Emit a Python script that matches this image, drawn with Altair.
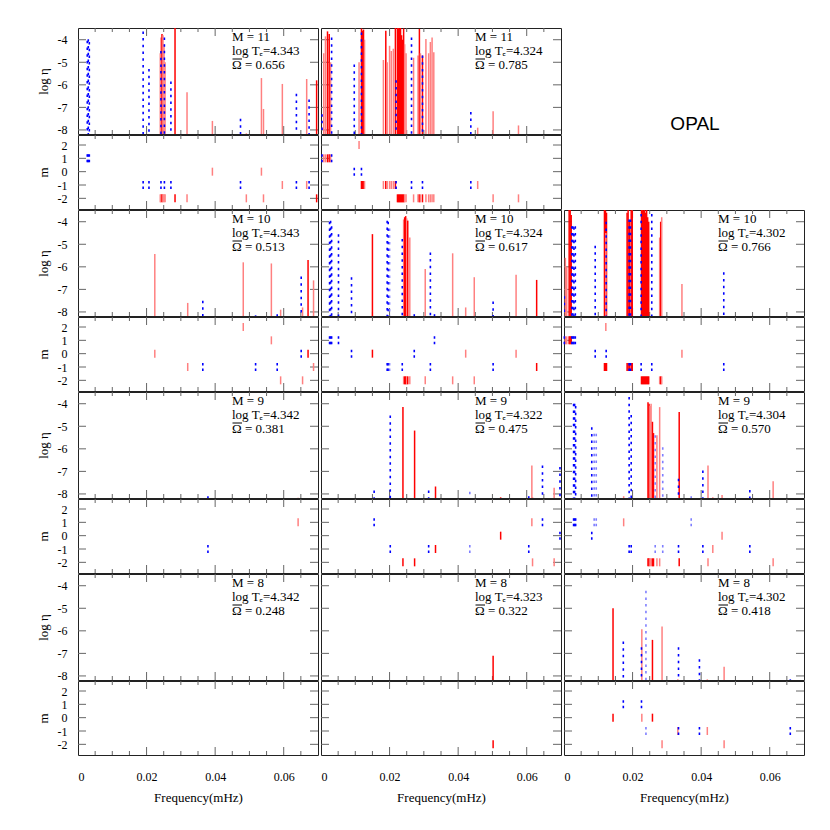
import altair as alt
import pandas as pd

# ---------------- data (frequency mHz, log eta, m, kind) ----------------
# kind: r = red, p = light red, b = blue, lb = light blue

# Row M=11, log Te=4.343
A_F = [0.0027, 0.0030, 0.0033, 0.0190, 0.0207, 0.0242, 0.0252, 0.0271, 0.0474, 0.0637, 0.0674,
       0.0240, 0.0242, 0.0245, 0.0248, 0.0251, 0.0254, 0.0283, 0.0318, 0.0392, 0.0491, 0.0535,
       0.0541, 0.0596, 0.0667, 0.0696]
A_E = [-4.05, -3.98, -4.1, -3.63, -5.3, -4.5, -3.9, -5.85, -7.5, -6.4, -6.65,
       -4.6, -3.9, -3.75, -3.8, -4.2, -5.0, -3.4, -6.33, -7.6, -8.15, -5.7,
       -7.07, -5.96, -5.74, -5.8]
A_M = [1, 1, 1, -1, -1, -1, -1, -1, -1, -1, -1,
       -2, -2, -2, -2, -2, -2, -2, -2, 0, -2, 0,
       -2, -1, -1, -2]
A_K = ["b"] * 11 + ["p", "p", "r", "p", "p", "p", "r", "p", "p", "p", "p", "p", "p", "p", "r"]

# Row M=11, log Te=4.324
B_F = [0.0008, 0.0013, 0.0019, 0.0024, 0.0028, 0.0111, 0.0118, 0.0121, 0.0124, 0.0127,
       0.0182, 0.0189, 0.0193, 0.0200, 0.0205, 0.0211, 0.0217, 0.0223, 0.0226, 0.0229,
       0.0232, 0.0235, 0.0238, 0.0241, 0.0244, 0.0248, 0.0270, 0.0283, 0.0287, 0.0290,
       0.0296, 0.0306, 0.0314, 0.0319, 0.0324, 0.0329, 0.0457, 0.0502, 0.0576,
       0.0003, 0.0031, 0.0097, 0.0118, 0.0219, 0.0264, 0.0296, 0.0437]
B_E = [-4.6, -3.85, -3.63, -3.75, -5.0, -5.0, -3.5, -3.6, -3.55, -4.0,
       -4.9, -3.6, -5.0, -4.27, -4.5, -4.4, -3.45, -3.4, -3.4, -3.5,
       -3.45, -3.8, -4.0, -3.5, -4.2, -4.6, -4.8, -4.7, -3.52, -4.6,
       -4.7, -3.97, -4.6, -4.1, -3.9, -4.56, -7.9, -7.17, -7.8,
       -7.3, -3.9, -5.1, -3.68, -5.8, -3.9, -4.7, -7.2]
B_M = [1, 1, 1, 1, 1, 2, -1, -1, -1, -1,
       -1, -1, -1, -1, -1, -1, -1, -2, -2, -2,
       -2, -2, -2, -2, -2, -2, -2, -2, -2, -2,
       -2, -2, -2, -2, -2, -2, -1, -2, -2,
       1, 1, 0, 0, -1, -1, -1, -1]
B_K = ["p", "p", "r", "r", "p", "p", "r", "r", "r", "p",
       "p", "r", "p", "p", "p", "p", "r", "r", "r", "r",
       "r", "r", "r", "r", "p", "p", "p", "p", "r", "p",
       "r", "p", "p", "p", "p", "p", "p", "p", "p"] + ["b"] * 8

# Row M=10, log Te=4.343
C_F = [0.0224, 0.0320, 0.0364, 0.0482, 0.0518, 0.0564, 0.0581, 0.0591, 0.0651, 0.0655, 0.0671, 0.0687]
C_E = [-5.43, -7.6, -7.5, -5.8, -8.15, -5.85, -8.1, -7.9, -6.43, -7.8, -5.7, -6.6]
C_M = [0, -1, -1, 2, -1, 1, -1, -2, 0, -2, 0, -1]
C_K = ["p", "p", "b", "p", "b", "p", "b", "p", "b", "p", "r", "p"]

# Row M=10, log Te=4.324
D_F = [0.0025, 0.0028, 0.0031, 0.0051, 0.0089, 0.0193, 0.0196, 0.0200, 0.0237, 0.0272,
       0.0319, 0.0331, 0.0502,
       0.0150, 0.0241, 0.0244, 0.0247, 0.0250, 0.0253, 0.0259, 0.0304, 0.0384, 0.0422,
       0.0447, 0.0569, 0.0629]
D_E = [-4.0, -3.96, -4.2, -4.55, -6.46, -3.96, -4.0, -4.3, -4.77, -8.1,
       -5.36, -8.1, -7.54,
       -4.55, -3.9, -3.8, -3.75, -3.85, -3.95, -4.7, -6.1, -5.4, -7.8,
       -6.46, -6.35, -6.58]
D_M = [1, 1, 1, 1, 0, -1, -1, -1, -1, 0,
       -1, 1, -1,
       0, -2, -2, -2, -2, -2, -2, -2, -2, 0,
       -2, 0, -1]
D_K = ["b", "b", "b", "b", "b", "b", "b", "lb", "b", "b", "b", "b", "b",
       "r", "p", "r", "r", "p", "r", "p", "p", "p", "p", "p", "p", "r"]

# Row M=10, log Te=4.302
E_F = [0.0004, 0.0008, 0.0015, 0.0018, 0.0021, 0.0118, 0.0121, 0.0124, 0.0122,
       0.0184, 0.0187, 0.0191, 0.0196, 0.0199, 0.0226, 0.0229, 0.0232, 0.0235,
       0.0238, 0.0241, 0.0244, 0.0247, 0.0279, 0.0282, 0.0285, 0.0344,
       0.0001, 0.0023, 0.0026, 0.0029, 0.0033, 0.0091, 0.0123, 0.0190, 0.0194,
       0.0225, 0.0256, 0.0466]
E_E = [-5.6, -6.0, -3.45, -3.4, -3.7, -3.45, -3.5, -3.6, -4.5,
       -3.6, -3.45, -4.0, -3.4, -3.5, -3.4, -3.45, -3.5, -3.4,
       -3.6, -3.45, -3.8, -4.0, -4.7, -4.0, -3.8, -6.76,
       -7.3, -4.2, -4.2, -4.25, -4.2, -5.06, -4.0, -3.9, -3.9,
       -3.66, -3.66, -6.24]
E_M = [1, 1, 1, 1, 1, -1, -1, -1, 2,
       -1, -1, -1, -1, -1, -2, -2, -2, -2,
       -2, -2, -2, -2, -2, -2, -2, 0,
       1, 1, 1, 1, 1, 0, 0, -1, -1,
       -1, -1, -1]
E_K = ["p", "p", "r", "r", "r", "r", "r", "r", "p",
       "r", "r", "r", "r", "r", "r", "r", "r", "r",
       "r", "r", "r", "r", "p", "r", "p", "p"] + ["b"] * 12

# Row M=9, log Te=4.342
F_F = [0.0379, 0.0642]
F_E = [-8.1, -8.17]
F_M = [-1, 1]
F_K = ["b", "p"]

# Row M=9, log Te=4.322
G_F = [0.0155, 0.0202, 0.0239, 0.0273, 0.0314, 0.0334, 0.0434, 0.0524, 0.0606, 0.0615,
       0.0617, 0.0646, 0.0680, 0.0697]
G_E = [-7.85, -4.52, -4.15, -5.19, -7.85, -7.67, -7.9, -8.15, -8.1, -6.74,
       -8.15, -6.74, -7.73, -6.8]
G_M = [1, -1, -2, -2, -1, -1, -1, 0, -1, 1, -2, 1, -2, 0]
G_K = ["b", "b", "r", "r", "b", "r", "lb", "r", "b", "p", "p", "b", "p", "b"]

# Row M=9, log Te=4.304
H_F = [0.0028, 0.0031, 0.0034, 0.0081, 0.0088, 0.0094, 0.0190, 0.0196, 0.0266, 0.0288,
       0.0334, 0.0371, 0.0405, 0.0542,
       0.0245, 0.0248, 0.0251, 0.0254, 0.0258, 0.0261, 0.0271, 0.0279, 0.0336, 0.0420,
       0.0434, 0.0461, 0.0610, 0.0174]
H_E = [-4.0, -4.0, -4.1, -5.04, -5.33, -5.33, -3.7, -4.5, -5.4, -5.93,
       -7.33, -8.1, -6.96, -7.82,
       -3.93, -4.0, -4.1, -4.0, -4.8, -5.3, -5.4, -4.15, -4.37, -6.74,
       -8.15, -8.05, -7.44, -8.1]
H_M = [1, 1, 1, 0, 1, 1, -1, -1, -1, -1,
       -1, 1, -1, -1,
       -2, -2, -2, -2, -2, -2, -2, -2, -2, -2,
       -1, 0, -2, 1]
H_K = ["b", "b", "b", "b", "lb", "lb", "b", "b", "lb", "lb", "b", "lb", "b", "b",
       "r", "r", "p", "p", "r", "r", "p", "p", "r", "p", "p", "p", "p", "p"]

# Row M=8, log Te=4.342 (no modes)
I_F, I_E, I_M, I_K = [], [], [], []

# Row M=8, log Te=4.323
J_F = [0.0502]
J_E = [-7.1]
J_M = [-2]
J_K = ["r"]

# Row M=8, log Te=4.302
K_F = [0.0143, 0.0173, 0.0227, 0.0226, 0.0239, 0.0258, 0.0286, 0.0334, 0.0332, 0.0395,
       0.0418, 0.0467, 0.0660]
K_E = [-5.0, -6.47, -5.93, -6.73, -4.22, -6.4, -5.81, -6.73, -8.15, -7.26,
       -8.15, -7.59, -8.15]
K_M = [0, 1, 0, 1, -1, 0, -2, -1, -1, -1, -1, -2, -1]
K_K = ["r", "b", "p", "b", "lb", "r", "p", "b", "p", "b", "p", "p", "b"]

M_LABELS = ["11", "11", "10", "10", "10", "9", "9", "9", "8", "8", "8"]
TE_LABELS = ["4.343", "4.324", "4.343", "4.324", "4.302", "4.342", "4.322", "4.304",
             "4.342", "4.323", "4.302"]
OMEGA_LABELS = ["0.656", "0.785", "0.513", "0.617", "0.766", "0.381", "0.475", "0.570",
                "0.248", "0.322", "0.418"]

X_MINOR = [0.005, 0.01, 0.015, 0.025, 0.03, 0.035, 0.045, 0.05, 0.055, 0.065]
X_MAJOR = [0.02, 0.04, 0.06]
X_LABELS = [0, 0.02, 0.04, 0.06]
ETA_TICKS = [-8, -7, -6, -5, -4]
M_TICKS = [-2, -1, 0, 1, 2]

# ---------------- styling ----------------
FONT = "Liberation Serif"
W, HE, HM = 240, 106, 74
TICK = "#666666"
XS = alt.Scale(domain=[0, 0.07], nice=False, zero=False)
YE = alt.Scale(domain=[-8.18, -3.48], nice=False, zero=False)
YM = alt.Scale(domain=[-2.8, 2.75], nice=False, zero=False)
CS = alt.Scale(domain=["r", "p", "b", "lb"], range=["#ff0000", "#ff8080", "#0000ff", "#7f7fff"])


def y_axis(title, vals):
    return alt.Axis(title=title, values=vals, labelExpr="'' + datum.value",
                    labelPadding=11, minExtent=22, maxExtent=22, titlePadding=6)


def x_axis():
    return alt.Axis(title="Frequency(mHz)", values=X_LABELS, format=".2~f",
                    labelPadding=16, titlePadding=9)


def tick_layers(yscale, yvals, H, xaxis, yaxis):
    layers = []
    for vals, L in ((X_MINOR, 4), (X_MAJOR, 8)):
        d = pd.DataFrame({"v": vals})
        for y0, y1 in ((H, H - L), (0, L)):
            layers.append(alt.Chart(d).mark_rule(color=TICK, strokeWidth=1).encode(
                x=alt.X("v:Q", scale=XS, axis=xaxis), y=alt.value(y0), y2=alt.value(y1)))
    d = pd.DataFrame({"v": yvals})
    for x0, x1 in ((0, 8), (W, W - 8)):
        layers.append(alt.Chart(d).mark_rule(color=TICK, strokeWidth=1).encode(
            y=alt.Y("v:Q", scale=yscale, axis=yaxis), x=alt.value(x0), x2=alt.value(x1)))
    return layers


def make_df(f, e, m, k):
    return pd.DataFrame({"freq": f, "eta": e, "m": m, "kind": k})


def text_layer(s, x, y, size=13):
    return alt.Chart(pd.DataFrame({"t": [s]})).mark_text(
        font=FONT, fontSize=size, align="left", baseline="middle", color="black").encode(
        text="t:N", x=alt.value(x), y=alt.value(y))


def eta_panel(df, idx, left):
    yaxis = y_axis("log η", ETA_TICKS) if left else None
    layers = tick_layers(YE, ETA_TICKS, HE, None, yaxis)
    red = df[df["kind"].isin(["r", "p"])]
    blue = df[df["kind"].isin(["b", "lb"])]
    if len(red):
        layers.append(alt.Chart(red).mark_rule(clip=True, strokeWidth=1.5).encode(
            x=alt.X("freq:Q", scale=XS, axis=None),
            y=alt.Y("eta:Q", scale=YE, axis=yaxis),
            y2=alt.datum(-8.18),
            color=alt.Color("kind:N", scale=CS, legend=None)))
    if len(blue):
        layers.append(alt.Chart(blue).mark_rule(clip=True, strokeWidth=1.6, strokeDash=[2.5, 4.2]).encode(
            x=alt.X("freq:Q", scale=XS, axis=None),
            y=alt.Y("eta:Q", scale=YE, axis=yaxis),
            y2=alt.datum(-8.18),
            color=alt.Color("kind:N", scale=CS, legend=None)))
    layers.append(text_layer("M  =  " + M_LABELS[idx], 154, 9))
    layers.append(text_layer("log Tₑ=" + TE_LABELS[idx], 154, 22.5))
    layers.append(text_layer("Ω  =  " + OMEGA_LABELS[idx], 154, 37))
    # bar over the Omega
    layers.append(alt.Chart(pd.DataFrame({"t": [""]})).mark_rule(
        color="black", strokeWidth=1).encode(
        x=alt.value(154.5), x2=alt.value(164), y=alt.value(31)))
    return alt.layer(*layers).properties(width=W, height=HE)


def m_panel(df, left, bottom):
    yaxis = y_axis("m", M_TICKS) if left else None
    xaxis = x_axis() if bottom else None
    layers = tick_layers(YM, M_TICKS, HM, xaxis, yaxis)
    red = df[df["kind"].isin(["r", "p"])]
    blue = df[df["kind"].isin(["b", "lb"])]
    for sub, dash, sw in ((red, None, 1.5), (blue, [2.5, 3], 1.6)):
        if len(sub):
            mk = alt.MarkDef(type="rule", strokeWidth=sw) if dash is None else \
                alt.MarkDef(type="rule", strokeWidth=sw, strokeDash=dash)
            layers.append(alt.Chart(sub, mark=mk).transform_calculate(
                lo="datum.m - 0.3", hi="datum.m + 0.3").encode(
                x=alt.X("freq:Q", scale=XS, axis=xaxis),
                y=alt.Y("lo:Q", scale=YM, axis=yaxis),
                y2="hi:Q",
                color=alt.Color("kind:N", scale=CS, legend=None)))
    return alt.layer(*layers).properties(width=W, height=HM)


def blank(h, with_text):
    base = alt.Chart(pd.DataFrame({"t": ["OPAL" if with_text else ""]})).mark_text(
        font="Liberation Sans", fontSize=19, align="center", baseline="middle",
        color="black").encode(text="t:N", x=alt.value(131), y=alt.value(96))
    return base.properties(width=W, height=h, view=alt.ViewBackground(strokeOpacity=0))


DATA = [
    [(A_F, A_E, A_M, A_K), (B_F, B_E, B_M, B_K), None],
    [(C_F, C_E, C_M, C_K), (D_F, D_E, D_M, D_K), (E_F, E_E, E_M, E_K)],
    [(F_F, F_E, F_M, F_K), (G_F, G_E, G_M, G_K), (H_F, H_E, H_M, H_K)],
    [(I_F, I_E, I_M, I_K), (J_F, J_E, J_M, J_K), (K_F, K_E, K_M, K_K)],
]

cells = []
idx = 0
for r, row in enumerate(DATA):
    top_row, bottom_row = [], []
    for c, cell in enumerate(row):
        if cell is None:
            top_row.append(blank(HE, True))
            bottom_row.append(blank(HM, False))
            continue
        df = make_df(*cell)
        top_row.append(eta_panel(df, idx, c == 0))
        bottom_row.append(m_panel(df, c == 0, r == 3))
        idx += 1
    cells.extend(top_row)
    cells.extend(bottom_row)

chart = alt.concat(*cells, columns=3, spacing={"row": 1, "column": 3}, bounds="flush").properties(
    padding={"left": 28, "top": 19, "right": 5, "bottom": 5}
).configure_view(stroke="#222222", strokeWidth=1).configure_axis(
    grid=False, ticks=False, domain=False, labelFont=FONT, titleFont=FONT,
    labelFontSize=12, titleFontSize=13, titleFontWeight="normal",
    labelColor="black", titleColor="black")

chart.save("out.html", embed_options={"renderer": "svg", "actions": False})
